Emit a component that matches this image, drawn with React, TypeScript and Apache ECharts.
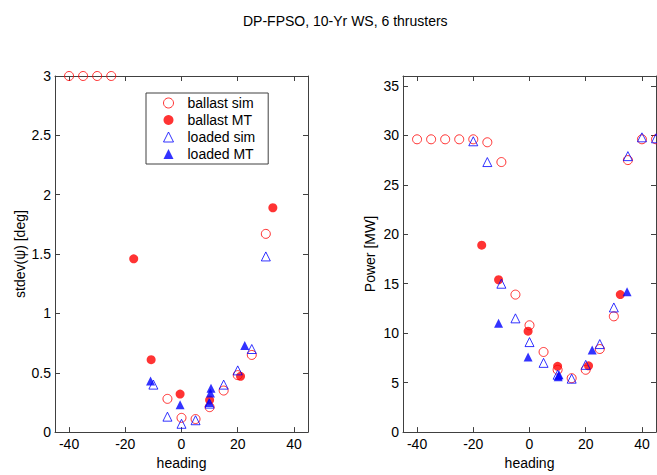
import React, { useEffect, useRef } from "react";
import * as echarts from "echarts";

const xTicks = [-40, -20, 0, 20, 40];
const stdYTicks = [0, 0.5, 1, 1.5, 2, 2.5, 3];
const powYTicks = [0, 5, 10, 15, 20, 25, 30, 35];

const stdBallastSim = [[-40, 3], [-35, 3], [-30, 3], [-25, 3], [-5, 0.28], [0, 0.12], [5, 0.11], [10, 0.21], [15, 0.35], [20, 0.48], [25, 0.65], [30, 1.67]];
const stdBallastMT = [[-17, 1.46], [-10.8, 0.61], [-0.5, 0.32], [10, 0.27], [21, 0.47], [32.5, 1.89]];
const stdLoadedSim = [[-10, 0.4], [-5, 0.13], [0, 0.07], [5, 0.1], [10, 0.24], [15, 0.4], [20, 0.52], [25, 0.7], [30, 1.48]];
const stdLoadedMT = [[-11, 0.43], [-0.5, 0.23], [9.8, 0.25], [10.3, 0.33], [10.5, 0.37], [22.5, 0.73]];

const powBallastSim = [[-40, 29.6], [-35, 29.6], [-30, 29.6], [-25, 29.6], [-20, 29.6], [-15, 29.3], [-10, 27.3], [-5, 13.9], [0, 10.8], [5, 8.1], [10, 6.3], [15, 5.45], [20, 6.3], [25, 8.4], [30, 11.7], [35, 27.5], [40, 29.6], [45, 29.6]];
const powBallastMT = [[-17, 18.9], [-11, 15.4], [-0.5, 10.2], [10, 6.65], [21, 6.7], [32.3, 13.9]];
const powLoadedSim = [[-20, 29.4], [-15, 27.3], [-10, 15.0], [-5, 11.5], [0, 9.1], [5, 7.0], [10, 5.8], [15, 5.4], [20, 6.8], [25, 8.9], [30, 12.6], [35, 27.9], [40, 29.8], [45, 29.7]];
const powLoadedMT = [[-11, 11.0], [-0.5, 7.6], [10.2, 5.6], [10.5, 5.8], [22.3, 8.3], [34.7, 14.2]];

const FONT = "'Liberation Sans', Arial, sans-serif";
const FS = 14;
const lineStyle = { color: "#404040", width: 1 };

function xAxis(grid: number, mirror: boolean) {
  return {
    type: "value",
    gridIndex: grid,
    min: -45,
    max: 45,
    position: mirror ? "top" : "bottom",
    name: mirror ? "" : "heading",
    nameLocation: "middle",
    nameGap: 22,
    nameTextStyle: { fontFamily: FONT, fontSize: FS, color: "#000" },
    axisLine: { show: true, onZero: false, lineStyle },
    axisTick: { show: true, inside: true, length: 5, customValues: xTicks, lineStyle },
    axisLabel: { show: !mirror, customValues: xTicks, margin: 5, fontFamily: FONT, fontSize: FS, color: "#000" },
    splitLine: { show: false },
  };
}

function yAxis(grid: number, mirror: boolean, max: number, ticks: number[], name: string, gap: number) {
  return {
    type: "value",
    gridIndex: grid,
    min: 0,
    max,
    position: mirror ? "right" : "left",
    name: mirror ? "" : name,
    nameLocation: "middle",
    nameGap: gap,
    nameTextStyle: { fontFamily: FONT, fontSize: FS, color: "#000" },
    axisLine: { show: true, onZero: false, lineStyle },
    axisTick: { show: true, inside: true, length: 5, customValues: ticks, lineStyle },
    axisLabel: { show: !mirror, customValues: ticks, margin: 4, fontFamily: FONT, fontSize: FS, color: "#000" },
    splitLine: { show: false },
  };
}

const openCircle = { color: "rgba(255,255,255,0)", borderColor: "#ff0000", borderWidth: 1 };
const fillCircle = { color: "#ff0000" };
const openTri = { color: "rgba(255,255,255,0)", borderColor: "#0000ff", borderWidth: 1 };
const fillTri = { color: "#0000ff" };

function series(name: string, data: number[][], grid: number, symbol: string, size: number, itemStyle: any) {
  return {
    type: "scatter",
    name,
    data,
    xAxisIndex: grid * 2,
    yAxisIndex: grid * 2,
    symbol,
    symbolSize: size,
    itemStyle,
    emphasis: { disabled: true },
  };
}

export default function App() {
  const ref = useRef<HTMLDivElement>(null);
  useEffect(() => {
    if (!ref.current) return;
    const chart = echarts.init(ref.current, undefined, { renderer: "svg" });
    chart.setOption({
      animation: false,
      backgroundColor: "#fff",
      title: {
        text: "DP-FPSO, 10-Yr WS, 6 thrusters",
        left: 238,
        top: 9,
        textStyle: { fontFamily: FONT, fontSize: FS, fontWeight: "normal", color: "#000" },
      },
      grid: [
        { left: 55, top: 76, width: 253, height: 360, show: false },
        { left: 403, top: 76, width: 253, height: 360, show: false },
      ],
      xAxis: [xAxis(0, false), xAxis(0, true), xAxis(1, false), xAxis(1, true)],
      yAxis: [
        yAxis(0, false, 3, stdYTicks, "stdev(ψ) [deg]", 28),
        yAxis(0, true, 3, stdYTicks, "", 0),
        yAxis(1, false, 36, powYTicks, "Power [MW]", 26),
        yAxis(1, true, 36, powYTicks, "", 0),
      ],
      legend: {
        left: 146,
        top: 93,
        orient: "vertical",
        data: [
          { name: "ballast sim", icon: "circle", itemStyle: { color: "#fff", borderColor: "#ff0000", borderWidth: 1 } },
          { name: "ballast MT", icon: "circle", itemStyle: { color: "#ff0000" } },
          { name: "loaded sim", icon: "triangle", itemStyle: { color: "#fff", borderColor: "#0000ff", borderWidth: 1 } },
          { name: "loaded MT", icon: "triangle", itemStyle: { color: "#0000ff" } },
        ],
        itemWidth: 10,
        itemHeight: 10,
        itemGap: 3,
        padding: [3, 13, 3, 17],
        borderColor: "#404040",
        borderWidth: 1,
        backgroundColor: "#fff",
        selectedMode: false,
        textStyle: { fontFamily: FONT, fontSize: FS, color: "#000", padding: [0, 0, 0, 9] },
      },
      series: [
        series("ballast sim", stdBallastSim, 0, "circle", 9, openCircle),
        series("ballast MT", stdBallastMT, 0, "circle", 9, fillCircle),
        series("loaded sim", stdLoadedSim, 0, "triangle", 9, openTri),
        series("loaded MT", stdLoadedMT, 0, "triangle", 9, fillTri),
        series("ballast sim", powBallastSim, 1, "circle", 9, openCircle),
        series("ballast MT", powBallastMT, 1, "circle", 9, fillCircle),
        series("loaded sim", powLoadedSim, 1, "triangle", 9, openTri),
        series("loaded MT", powLoadedMT, 1, "triangle", 9, fillTri),
      ],
    });
    return () => chart.dispose();
  }, []);
  return <div ref={ref} style={{ position: "absolute", left: 0, top: 0, width: 657, height: 475 }} />;
}
